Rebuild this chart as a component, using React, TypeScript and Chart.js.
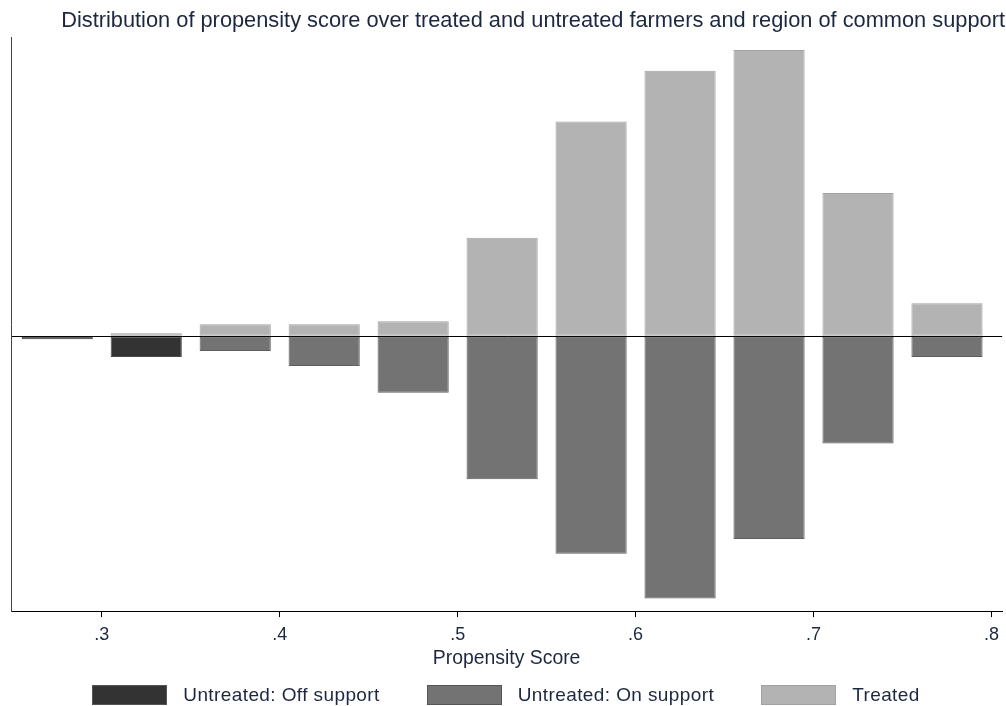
import React, { useEffect, useRef } from "react";
import { Chart, registerables } from "chart.js";

Chart.register(...registerables);

// ---- data ----
const binCenters = [0.275, 0.325, 0.375, 0.425, 0.475, 0.525, 0.575, 0.625, 0.675, 0.725, 0.775];
const treated: (number | null)[] = [null, 1, 4, 4, 5, 33, 72, 89, 96, 48, 11];
const untreatedOn: (number | null)[] = [null, null, -5, -10, -19, -48, -73, -88, -68, -36, -7];
const untreatedOff: (number | null)[] = [-1, -7, null, null, null, null, null, null, null, null, null];
const xTickValues = [0.3, 0.4, 0.5, 0.6, 0.7, 0.8];
const xMin = 0.249;
const xMax = 0.806;
const yMin = -92.2;
const yMax = 100;

const titleText =
  "Distribution of propensity score over treated and untreated farmers and region of common support";
const xTitle = "Propensity Score";
const seriesLabels = ["Untreated: Off support", "Untreated: On support", "Treated"];
const seriesFill = ["#333333", "#737373", "#b3b3b3"];
const seriesBorder = ["#4a4a4a", "#5e5e5e", "#a2a2a2"];

const FONT = "'Liberation Sans', Arial, sans-serif";
const TEXT = "#1c2740";

export default function App() {
  const ref = useRef<HTMLCanvasElement>(null);

  useEffect(() => {
    const toPts = (arr: (number | null)[]) =>
      binCenters
        .map((x, i) => ({ x, y: arr[i] }))
        .filter((p) => p.y !== null) as { x: number; y: number }[];

    const mk = (idx: number, arr: (number | null)[]) => ({
      label: seriesLabels[idx],
      data: toPts(arr),
      backgroundColor: seriesFill[idx],
      borderColor: seriesBorder[idx],
      borderWidth: 1,
      borderSkipped: false as const,
      grouped: false,
      barPercentage: 0.8,
      categoryPercentage: 1,
    });

    const chart = new Chart(ref.current as HTMLCanvasElement, {
      type: "bar",
      data: {
        datasets: [mk(2, treated), mk(1, untreatedOn), mk(0, untreatedOff)] as any,
      },
      options: {
        animation: false,
        responsive: false,
        maintainAspectRatio: false,
        layout: { padding: { left: 11, right: 1, top: 0, bottom: 36 } },
        plugins: {
          legend: { display: false },
          tooltip: { enabled: false },
          title: {
            display: true,
            text: titleText,
            align: "end",
            color: TEXT,
            font: { family: FONT, size: 21.8, weight: "normal" },
            padding: { top: 8.4, bottom: 3.4 },
          },
        },
        scales: {
          x: {
            type: "linear",
            min: xMin,
            max: xMax,
            offset: false,
            afterBuildTicks: (s: any) => {
              s.ticks = xTickValues.map((v) => ({ value: v }));
            },
            ticks: {
              callback: (v: any) => "." + Math.round(Number(v) * 10),
              color: TEXT,
              font: { family: FONT, size: 18 },
              padding: 7,
              maxRotation: 0,
              autoSkip: false,
            },
            grid: {
              offset: false,
              drawOnChartArea: false,
              drawTicks: true,
              tickLength: 6,
              tickColor: "#000",
              tickWidth: 1,
            },
            border: { display: true, color: "#000", width: 1 },
            title: {
              display: true,
              text: xTitle,
              color: TEXT,
              font: { family: FONT, size: 19.4 },
              padding: { top: -6, bottom: 0 },
            },
          },
          y: {
            min: yMin,
            max: yMax,
            afterBuildTicks: (s: any) => {
              s.ticks = [{ value: 0 }];
            },
            ticks: { display: false },
            grid: { color: "#000", lineWidth: 1, drawTicks: false },
            border: { display: true, color: "#444", width: 1 },
          },
        },
      } as any,
    });
    return () => chart.destroy();
  }, []);

  return (
    <div style={{ position: "absolute", left: 0, top: 0, width: 1006, height: 706, background: "#fff" }}>
      <canvas ref={ref} width={1006} height={706} style={{ display: "block" }} />
      <div
        style={{
          position: "absolute",
          left: 3,
          top: 685,
          width: 1006,
          height: 20,
          display: "flex",
          justifyContent: "center",
          alignItems: "center",
          fontFamily: FONT,
          fontSize: 19,
          color: TEXT,
          letterSpacing: "0.4px",
          whiteSpace: "nowrap",
        }}
      >
        {seriesLabels.map((lab, i) => (
          <div
            key={lab}
            style={{ display: "flex", alignItems: "center", marginLeft: i === 0 ? 0 : 47 }}
          >
            <span
              style={{
                display: "inline-block",
                boxSizing: "border-box",
                width: 75,
                height: 20,
                background: seriesFill[i],
                border: `1px solid ${i === 2 ? "#a2a2a2" : "#555"}`,
              }}
            />
            <span style={{ marginLeft: 16, lineHeight: "20px" }}>{lab}</span>
          </div>
        ))}
      </div>
    </div>
  );
}
